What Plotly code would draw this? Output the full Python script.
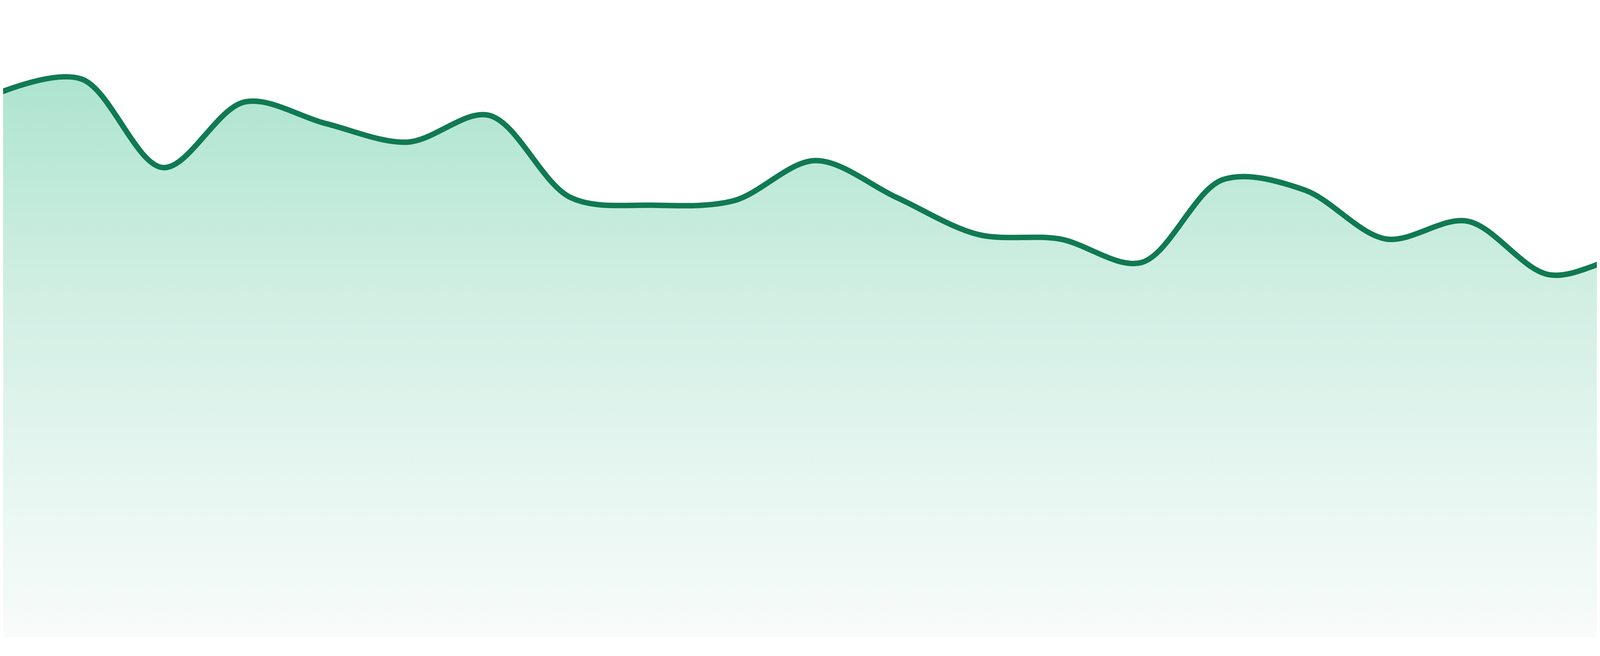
import plotly.graph_objects as go

# one value per step (y axis 0..100)
steps = list(range(24))
values = [85.5, 87.6, 73.7, 84.0, 80.6, 77.7, 81.9, 69.0, 67.8, 68.5, 74.8, 69.0,
          63.2, 62.5, 58.8, 71.8, 70.2, 62.5, 65.3, 56.9, 59.8, 58.0, 58.1, 52.4]

LINE_COLOR = "#107a52"

# vertical fill fade, bottom (0) to the highest point (1)
fade = [
    [0.0, "rgb(249,251,250)"],
    [0.16, "rgb(238,249,245)"],
    [0.60, "rgb(210,239,228)"],
    [0.76, "rgb(196,235,220)"],
    [0.97, "rgb(176,229,209)"],
    [1.0, "rgb(173,228,207)"],
]

STEP_PX = 4800 / 23  # pixel width of one step in the reference

fig = go.Figure()

fig.add_trace(go.Scatter(
    x=steps,
    y=values,
    mode="lines",
    line=dict(color=LINE_COLOR, width=14, shape="spline", smoothing=0.95),
    fill="tozeroy",
    fillgradient=dict(type="vertical", colorscale=fade, start=0, stop=max(values)),
    hoverinfo="skip",
    showlegend=False,
))

# the page body keeps its 8px margin, so the figure is 16px smaller each way
fig.update_layout(
    width=4784,
    height=1664,
    margin=dict(l=0, r=0, t=0, b=40),
    paper_bgcolor="white",
    plot_bgcolor="white",
    xaxis=dict(range=[8 / STEP_PX, 23 - 8 / STEP_PX], visible=False, fixedrange=True),
    yaxis=dict(range=[0, 99.51], visible=False, fixedrange=True),
)

fig.write_html("out.html")
